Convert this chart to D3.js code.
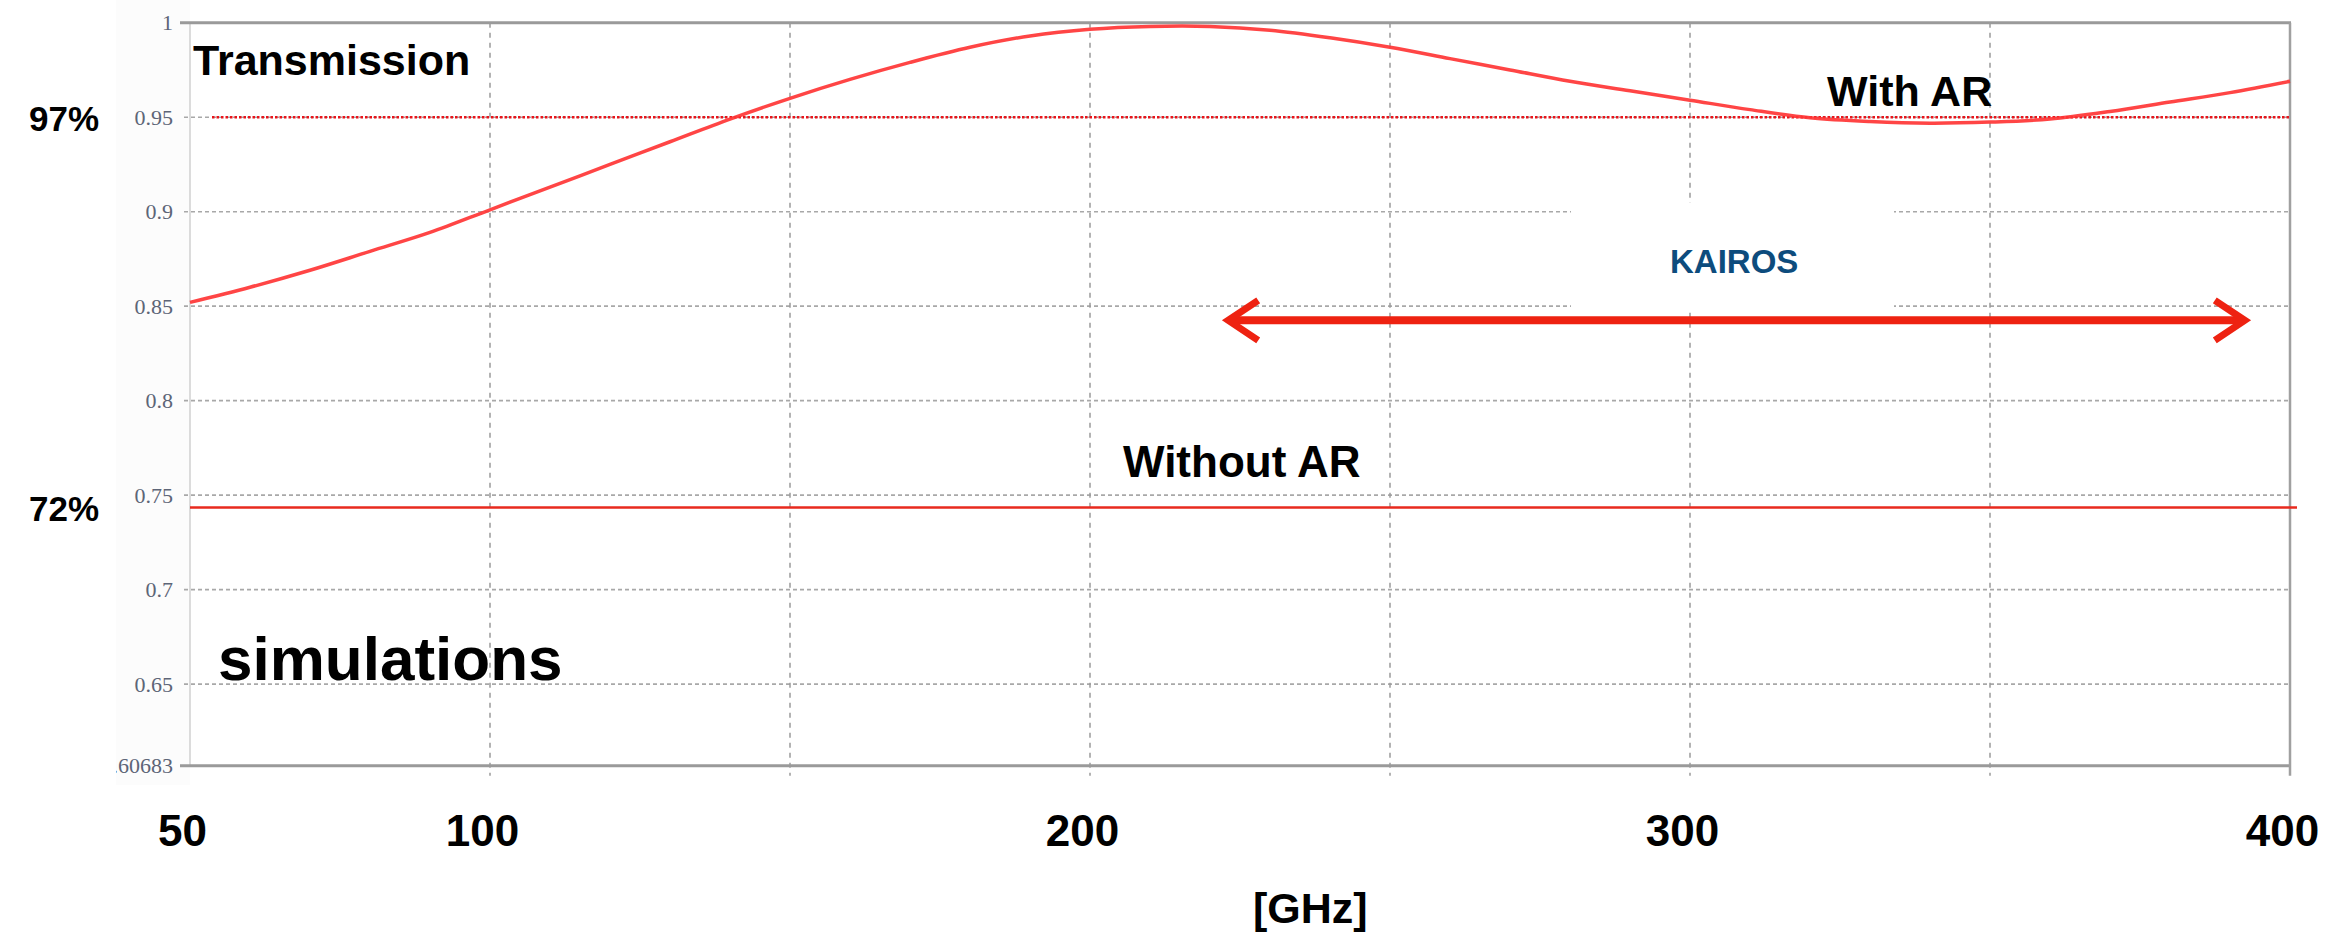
<!DOCTYPE html>
<html>
<head>
<meta charset="utf-8">
<script src="https://cdn.jsdelivr.net/npm/d3@7"></script>
<style>
  html, body { margin: 0; padding: 0; background: #ffffff; }
  svg { display: block; }
</style>
</head>
<body>
<script>
// ---- data ----
const freqGHz = [50, 60, 70, 80, 90, 100, 110, 120, 130, 140, 150, 160, 170, 180, 190, 200,
                 210, 220, 230, 240, 250, 260, 270, 280, 290, 300, 310, 320, 330, 340, 350,
                 360, 370, 380, 390, 400];
const transWithAR = [0.852, 0.860, 0.869, 0.879, 0.889, 0.901, 0.913, 0.925, 0.937, 0.949, 0.960,
                     0.970, 0.979, 0.987, 0.993, 0.9965, 0.998, 0.998, 0.996, 0.992, 0.987,
                     0.981, 0.975, 0.969, 0.964, 0.959, 0.954, 0.9497, 0.9477, 0.9468, 0.9474,
                     0.949, 0.953, 0.958, 0.963, 0.969];
const transWithoutAR = 0.7435;
const refLevel = 0.95;
const xDomain = [50, 400];
const yDomain = [0.60683, 1];
const xGridValues = [50, 100, 150, 200, 250, 300, 350, 400];
const xLabelValues = [50, 100, 200, 300, 400];
const yTickValues = [1, 0.95, 0.9, 0.85, 0.8, 0.75, 0.7, 0.65, 0.60683];
const kairosBand = [222.7, 392.8];
const kairosLevel = 0.8425;
const sideLabels = [{text: "97%", v: 0.95}, {text: "72%", v: 0.7435}];

// ---- layout ----
const W = 2330, H = 938;
const x = d3.scaleLinear().domain(xDomain).range([190, 2290]);
const y = d3.scaleLinear().domain(yDomain).range([765.7, 22.7]);

const svg = d3.select("body").append("svg").attr("width", W).attr("height", H);
const defs = svg.append("defs");
defs.append("clipPath").attr("id", "ylabclip")
  .append("rect").attr("x", 116).attr("y", 0).attr("width", W).attr("height", H);

const FONT = "'Liberation Sans', Arial, Helvetica, sans-serif";

// faint strip behind the y labels
svg.append("rect").attr("x", 116).attr("y", 0).attr("width", 74).attr("height", 785)
  .attr("fill", "#fcfcfc");

// horizontal grid lines
svg.append("g").selectAll("line")
  .data(yTickValues.filter(v => v !== 1 && v !== yDomain[0]))
  .join("line")
  .attr("x1", 184).attr("x2", x(400))
  .attr("y1", d => y(d)).attr("y2", d => y(d))
  .attr("stroke", "#a8a8a8").attr("stroke-width", 1.6)
  .attr("stroke-dasharray", "4,3");

// vertical grid lines
svg.append("g").selectAll("line")
  .data(xGridValues.filter(v => v !== 50 && v !== 400))
  .join("line")
  .attr("x1", d => x(d)).attr("x2", d => x(d))
  .attr("y1", y(1)).attr("y2", y(yDomain[0]) + 10)
  .attr("stroke", "#9a9a9a").attr("stroke-width", 1.5)
  .attr("stroke-dasharray", "5,5");

// white box behind KAIROS label
svg.append("rect").attr("x", 1571).attr("y", 203).attr("width", 323).attr("height", 107)
  .attr("fill", "#ffffff");

// frame
svg.append("line").attr("x1", x(50)).attr("x2", x(50)).attr("y1", y(1)).attr("y2", y(yDomain[0]))
  .attr("stroke", "#d0d0d0").attr("stroke-width", 1.5);
svg.append("line").attr("x1", 180).attr("x2", x(400) + 1).attr("y1", y(1)).attr("y2", y(1))
  .attr("stroke", "#9a9a9a").attr("stroke-width", 3);
svg.append("line").attr("x1", 180).attr("x2", x(400) + 1).attr("y1", y(yDomain[0])).attr("y2", y(yDomain[0]))
  .attr("stroke", "#9a9a9a").attr("stroke-width", 3);
svg.append("line").attr("x1", x(400)).attr("x2", x(400)).attr("y1", y(1)).attr("y2", y(yDomain[0]) + 10)
  .attr("stroke", "#a0a0a0").attr("stroke-width", 2.5);

// y axis labels (clipped on the left like the cropped original)
const yAxis = d3.axisLeft(y).tickValues(yTickValues).tickSize(0).tickPadding(17)
  .tickFormat(d => String(d));
const gyWrap = svg.append("g").attr("clip-path", "url(#ylabclip)");
const gy = gyWrap.append("g").attr("transform", `translate(${x(50)},0)`).call(yAxis);
gy.select(".domain").remove();
gy.selectAll("text")
  .attr("font-family", "'Liberation Serif', 'Times New Roman', serif")
  .attr("font-size", 22).attr("fill", "#5d6577");

// x axis labels
const xAxis = d3.axisBottom(x).tickValues(xLabelValues).tickSize(0).tickPadding(0)
  .tickFormat(d => String(d));
const gx = svg.append("g").attr("transform", "translate(-8,815)").call(xAxis);
gx.select(".domain").remove();
gx.selectAll("text")
  .attr("font-family", FONT).attr("font-weight", "bold")
  .attr("font-size", 44).attr("fill", "#000");

// 97% reference line (dotted)
svg.append("line").attr("x1", 212).attr("x2", x(400))
  .attr("y1", y(refLevel)).attr("y2", y(refLevel))
  .attr("stroke", "#e8141a").attr("stroke-width", 2.5).attr("stroke-dasharray", "2.5,2");

// without AR line
svg.append("line").attr("x1", x(50)).attr("x2", x(400) + 7)
  .attr("y1", y(transWithoutAR)).attr("y2", y(transWithoutAR))
  .attr("stroke", "#e82a1e").attr("stroke-width", 2.5);

// with AR curve
const line = d3.line().x((d, i) => x(freqGHz[i])).y(d => y(d)).curve(d3.curveCatmullRom.alpha(0.5));
svg.append("path").datum(transWithAR).attr("d", line)
  .attr("fill", "none").attr("stroke", "#ff3535").attr("stroke-width", 3.5)
  .attr("stroke-opacity", 0.92);

// KAIROS arrow
const ax1 = x(kairosBand[0]), ax2 = x(kairosBand[1]), ay = y(kairosLevel);
svg.append("line").attr("x1", ax1 + 3).attr("x2", ax2 - 3).attr("y1", ay).attr("y2", ay)
  .attr("stroke", "#ee2211").attr("stroke-width", 8);
svg.append("path")
  .attr("d", `M${ax1 + 32},${ay - 20} L${ax1 + 2},${ay} L${ax1 + 32},${ay + 20}`)
  .attr("fill", "none").attr("stroke", "#ee2211").attr("stroke-width", 7)
  .attr("stroke-linejoin", "miter");
svg.append("path")
  .attr("d", `M${ax2 - 32},${ay - 20} L${ax2 - 2},${ay} L${ax2 - 32},${ay + 20}`)
  .attr("fill", "none").attr("stroke", "#ee2211").attr("stroke-width", 7)
  .attr("stroke-linejoin", "miter");

// annotations
const txt = (s, xx, yy, size, color) => svg.append("text").text(s)
  .attr("x", xx).attr("y", yy).attr("font-family", FONT).attr("font-weight", "bold")
  .attr("font-size", size).attr("fill", color || "#000");

txt("Transmission", 193, 75, 43);
txt("With AR", 1827, 106, 43);
txt("KAIROS", 1670, 273, 33, "#0d4c7d");
txt("Without AR", 1123, 477, 44);
txt("simulations", 218, 680, 62);
txt("[GHz]", 1253, 923, 43);

svg.append("g").selectAll("text").data(sideLabels).join("text")
  .text(d => d.text)
  .attr("x", 29).attr("y", d => y(d.v) + 14)
  .attr("font-family", FONT).attr("font-weight", "bold")
  .attr("font-size", 35).attr("fill", "#000");
</script>
</body>
</html>
